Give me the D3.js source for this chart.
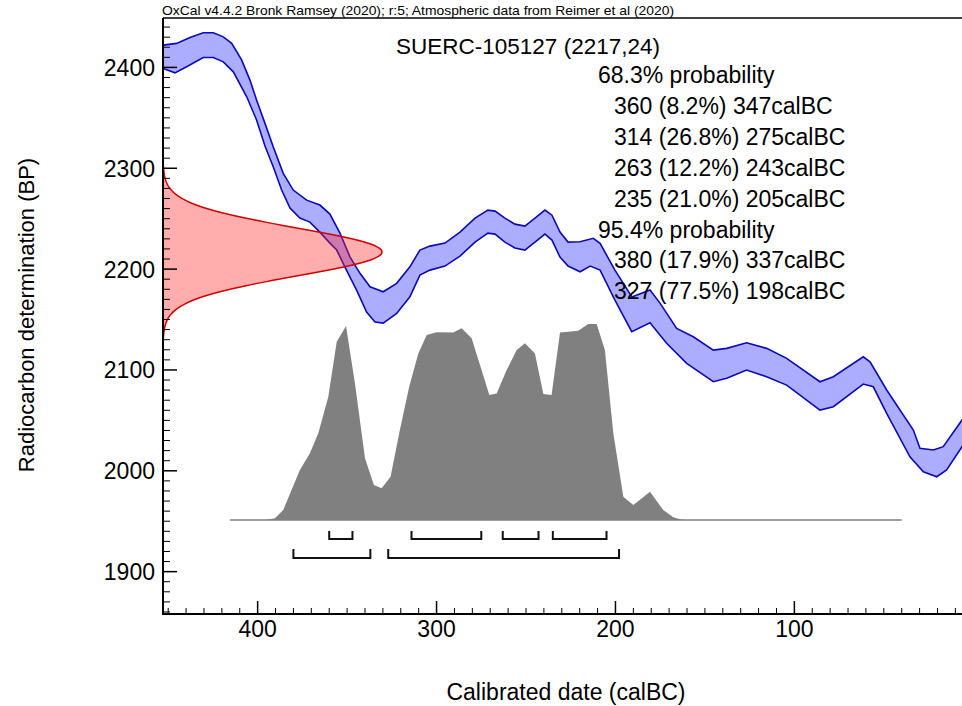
<!DOCTYPE html>
<html><head><meta charset="utf-8">
<script src="https://cdn.jsdelivr.net/npm/d3@7/dist/d3.min.js"></script>
<style>
body{margin:0;background:#fff}
svg{display:block;font-family:"Liberation Sans",Arial,sans-serif}
</style>
</head><body>
<svg id="chart" width="962" height="706"></svg>
<script>
// ---------------- DATA ----------------
const headerText = "OxCal v4.4.2 Bronk Ramsey (2020); r:5; Atmospheric data from Reimer et al (2020)";
const sampleTitle = "SUERC-105127 (2217,24)";
const c14Age = 2217, c14Err = 24;
const xLabel = "Calibrated date (calBC)";
const yLabel = "Radiocarbon determination (BP)";
const xTickLabels = [400, 300, 200, 100];
const yTickLabels = [2400, 2300, 2200, 2100, 2000, 1900];

// calibration curve, upper edge (calBC, BP)
const upperYears = [452.8,445.3,437.8,430.4,424.8,419.2,414.5,408.9,404.3,400.6,395.9,391.3,385.7,380.1,372.6,365.2,359.6,354.0,348.4,342.8,337.2,329.8,322.3,314.9,309.3,303.7,295.3,286.9,278.5,271.3,267.3,261.8,256.2,250.6,245.0,239.4,235.5,231.0,226.5,219.8,212.4,208.6,200.3,190.8,180.7,175.1,165.8,156.5,145.3,137.8,126.7,115.5,104.3,85.7,78.2,61.5,57.7,48.4,33.5,29.8,22.3,16.8,6.3,0];
const upperBP    = [2422.1,2423.8,2429.7,2434.3,2434.3,2430.3,2423.8,2407.2,2387.4,2367.6,2344.5,2321.3,2294.9,2278.4,2268.4,2263.5,2254.6,2235.7,2212.2,2195.8,2182.5,2177.5,2185.9,2202.3,2218.9,2222.8,2225.8,2236.7,2250.6,2258.5,2257.5,2250.6,2244.6,2242.7,2250.6,2258.5,2253.5,2236.7,2226.8,2227.1,2230.5,2225.5,2199.0,2172.3,2179.2,2166.3,2141.2,2132.9,2119.7,2121.4,2127.0,2121.4,2111.5,2088.3,2093.3,2113.1,2108.1,2080.1,2040.4,2022.3,2020.6,2023.9,2050.3,2066];
// calibration curve, lower edge (calBC, BP)
const lowerYears = [452.8,446.2,439.7,430.4,424.8,419.2,413.6,406.1,400.6,395.9,391.3,386.6,381.9,376.4,370.8,365.2,359.6,355.8,351.2,344.7,339.1,334.4,329.8,322.3,314.9,309.3,303.7,295.3,286.9,278.5,271.3,267.3,261.8,256.2,250.6,245.0,239.4,235.5,231.0,226.5,219.8,214.1,208.6,200.3,190.9,180.7,171.4,160.2,145.3,137.8,126.7,115.5,104.3,85.7,78.2,61.5,55.9,48.4,35.4,27.9,20.4,14.9,6.3,0];
const lowerBP    = [2399.0,2394.6,2400.6,2409.9,2409.9,2405.5,2395.6,2370.9,2347.8,2322.0,2301.5,2278.4,2260.5,2250.6,2246.6,2236.7,2225.8,2218.9,2202.0,2179.2,2157.4,2147.5,2146.5,2156.1,2172.6,2194.1,2199.0,2203.0,2212.9,2226.8,2235.7,2234.7,2226.8,2220.9,2218.9,2226.8,2234.7,2228.8,2211.9,2203.0,2197.4,2203.0,2199.0,2169.3,2137.9,2146.8,2126.4,2106.5,2088.3,2091.7,2099.9,2093.3,2085.0,2060.2,2063.5,2086.0,2083.3,2057.0,2013.9,1999.1,1994.1,2000.8,2023.9,2040];

// posterior (calibrated) distribution, relative probability (% of max)
const postYears = [393.1,390.3,385.7,376.4,370.8,366.1,360.5,355.8,350.6,345.6,340.0,335.0,330.7,325.7,320.5,315.3,310.2,305.5,300.0,290.7,286.0,280.4,275.7,270.5,266.4,260.8,255.2,250.6,245.0,240.3,235.7,231.0,220.8,215.2,210.5,205.9,201.2,195.6,190.0,180.7,173.3,167.7,163.9];
const postProb  = [0.4,0.9,5.1,25.5,34.0,44.2,62.9,91.0,99.0,69.7,31.5,17.9,16.2,22.1,45.9,68.0,85.0,94.4,95.8,95.6,97.8,92.7,79.1,63.8,64.6,76.5,86.7,90.2,85.0,64.3,63.8,95.6,96.6,100,100,86.7,44.2,11.9,7.7,14.4,5.1,1.4,0.4];
const postSpan = [415.4, 40];

// ranges: [from, to, percent]
const range68 = [[360,347,8.2],[314,275,26.8],[263,243,12.2],[235,205,21.0]];
const range95 = [[380,337,17.9],[327,198,77.5]];

// ---------------- DRAWING ----------------
const svg = d3.select("#chart");
const L = 163, R = 962, T = 18, B = 614;
const x = d3.scaleLinear().domain([452.9, 6.3]).range([L, R]);
const y = d3.scaleLinear().domain([1858, 2449]).range([B, T]);

svg.append("defs").append("clipPath").attr("id","plot")
  .append("rect").attr("x",L).attr("y",T).attr("width",R-L).attr("height",B-T);

const plot = svg.append("g").attr("clip-path","url(#plot)");

// calibration curve band
const up = upperYears.map((d,i)=>[x(d), y(upperBP[i])]);
const lo = lowerYears.map((d,i)=>[x(d), y(lowerBP[i])]);
const line = d3.line();
plot.append("path").attr("d", line(up.concat(lo.slice().reverse())) + "Z")
  .attr("fill","rgba(60,60,255,0.42)").attr("stroke","none");
plot.append("path").attr("d", line(up)).attr("fill","none").attr("stroke","#0a0ab4").attr("stroke-width",1.6);
plot.append("path").attr("d", line(lo)).attr("fill","none").attr("stroke","#0a0ab4").attr("stroke-width",1.6);

// radiocarbon measurement (normal distribution on BP axis)
const dens = d3.scaleLinear().domain([0,1]).range([L, 382]);
const bpSamples = d3.range(c14Age - 3.6*c14Err, c14Age + 3.6*c14Err + 0.01, 1);
const gauss = bpSamples.map(b => [b, Math.exp(-0.5*Math.pow((b-c14Age)/c14Err,2))]);
const areaG = d3.area().y(d=>y(d[0])).x0(L).x1(d=>dens(d[1]));
plot.append("path").attr("d", areaG(gauss)).attr("fill","rgba(255,40,40,0.38)");
plot.append("path").attr("d", d3.line().x(d=>dens(d[1])).y(d=>y(d[0]))(gauss))
  .attr("fill","none").attr("stroke","#d00000").attr("stroke-width",1.5);

// posterior distribution
const baseY = 520, topY = 324;
const yP = d3.scaleLinear().domain([0,100]).range([baseY, topY]);
svg.append("line").attr("x1",x(postSpan[0])).attr("x2",x(postSpan[1]))
  .attr("y1",baseY).attr("y2",baseY).attr("stroke","#808080").attr("stroke-width",1.5);
const post = postYears.map((d,i)=>[d, postProb[i]]);
post.unshift([postYears[0]+3,0]); post.push([postYears[postYears.length-1]-3,0]);
svg.append("path").attr("d", d3.area().x(d=>x(d[0])).y0(baseY).y1(d=>yP(d[1]))(post))
  .attr("fill","#808080");

// range brackets
function brackets(ranges, top, bottom){
  ranges.forEach(r=>{
    svg.append("path")
      .attr("d", `M${x(r[0])},${top}V${bottom}H${x(r[1])}V${top}`)
      .attr("fill","none").attr("stroke","#111").attr("stroke-width",2);
  });
}
brackets(range68, 531, 539);
brackets(range95, 549, 558);

// axes frame
svg.append("line").attr("x1",L).attr("x2",R).attr("y1",T).attr("y2",T).attr("stroke","#000").attr("stroke-width",1.5);
svg.append("line").attr("x1",L).attr("x2",L).attr("y1",T).attr("y2",B+1).attr("stroke","#000").attr("stroke-width",2);
svg.append("line").attr("x1",L).attr("x2",R).attr("y1",B).attr("y2",B).attr("stroke","#000").attr("stroke-width",2);

// x ticks
const xt = d3.range(450, 5, -10);
xt.forEach(v=>{
  const major = v % 100 === 0;
  svg.append("line").attr("x1",x(v)).attr("x2",x(v)).attr("y1",B).attr("y2",B-(major?13:6))
    .attr("stroke","#000").attr("stroke-width",major?1.5:1);
});
svg.append("g").selectAll("text").data(xTickLabels).join("text")
  .attr("x",d=>x(d)).attr("y",637).attr("text-anchor","middle")
  .attr("font-size",23).text(d=>d);

// y ticks
const yt = d3.range(1860, 2450, 10);
yt.forEach(v=>{
  const major = v % 100 === 0;
  svg.append("line").attr("x1",L).attr("x2",L+(major?14:7)).attr("y1",y(v)).attr("y2",y(v))
    .attr("stroke","#000").attr("stroke-width",major?1.5:1);
});
svg.append("g").selectAll("text").data(yTickLabels).join("text")
  .attr("x",155).attr("y",d=>y(d)+8.5).attr("text-anchor","end")
  .attr("font-size",23).text(d=>d);

// texts
svg.append("text").attr("x",162).attr("y",15).attr("font-size",13)
  .attr("textLength",512).attr("lengthAdjust","spacingAndGlyphs").text(headerText);
svg.append("text").attr("x",528).attr("y",54).attr("text-anchor","middle").attr("font-size",22.5).text(sampleTitle);

const lines = [];
lines.push({t:"68.3% probability", ind:false});
range68.forEach(r=>lines.push({t:`${r[0]} (${r[2].toFixed(1)}%) ${r[1]}calBC`, ind:true}));
lines.push({t:"95.4% probability", ind:false});
range95.forEach(r=>lines.push({t:`${r[0]} (${r[2].toFixed(1)}%) ${r[1]}calBC`, ind:true}));
svg.append("g").selectAll("text").data(lines).join("text")
  .attr("x",d=>d.ind?614:598).attr("y",(d,i)=>83+i*30.9)
  .attr("font-size",23).text(d=>d.t);

svg.append("text").attr("x",566).attr("y",700).attr("text-anchor","middle").attr("font-size",23).text(xLabel);
svg.append("text").attr("transform","translate(34,315) rotate(-90)").attr("text-anchor","middle")
  .attr("font-size",22).text(yLabel);
</script>
</body></html>
